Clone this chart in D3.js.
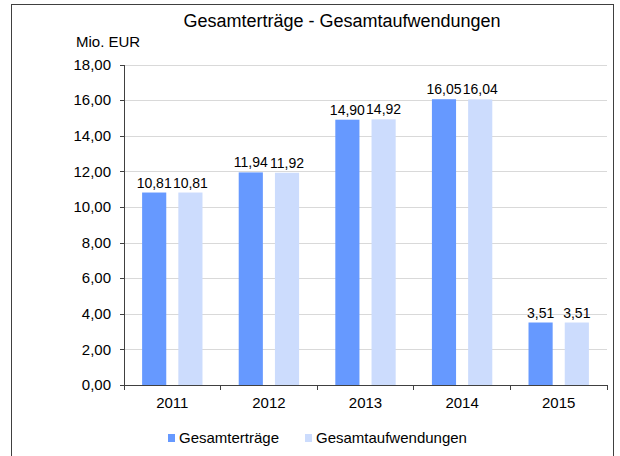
<!DOCTYPE html>
<html>
  <head>
    <meta charset="utf-8">
    <script type="text/javascript" src="https://cdn.jsdelivr.net/npm/d3@7"></script>
    <style type="text/css">
      body { margin: 0; background: #ffffff; }
      svg text { font-family: "Liberation Sans", Arial, sans-serif; fill: #000000; }
      .axis path, .axis line { fill: none; stroke: #404040; shape-rendering: crispEdges; }
      .grid line { stroke: #d9d9d9; shape-rendering: crispEdges; }
      .grid path { display: none; }
    </style>
  </head>
  <body>
    <script type="text/javascript">
      // data
      var years = ["2011", "2012", "2013", "2014", "2015"];
      var seriesNames = ["Gesamterträge", "Gesamtaufwendungen"];
      var ertraege = [10.81, 11.94, 14.90, 16.05, 3.51];
      var aufwendungen = [10.81, 11.92, 14.92, 16.04, 3.51];
      var yTicks = [0, 2, 4, 6, 8, 10, 12, 14, 16, 18];
      var colors = ["#6699ff", "#ccdcfd"];

      var svgWidth = 620;
      var svgHeight = 456;
      var plotLeft = 124, plotRight = 607, plotTop = 64.5, plotBottom = 385;

      var svg = d3.select("body")
        .append("svg")
        .attr("width", svgWidth)
        .attr("height", svgHeight);

      // frame round the chart
      svg.append("rect")
        .attr("x", 11.5)
        .attr("y", 4.5)
        .attr("width", 602)
        .attr("height", 470)
        .attr("fill", "none")
        .attr("stroke", "#404040")
        .attr("stroke-width", 1);

      var xScale = d3.scaleBand()
        .domain(years)
        .range([plotLeft, plotRight]);

      var inner = d3.scaleBand()
        .domain(seriesNames)
        .range([0, xScale.bandwidth()])
        .paddingInner(1 / 3)
        .paddingOuter(0.5);

      var yScale = d3.scaleLinear()
        .domain([0, 18])
        .range([plotBottom, plotTop]);

      var fmt = function(v) { return d3.format(".2f")(v).replace(".", ","); };

      // grid lines
      svg.append("g")
        .attr("class", "grid")
        .attr("transform", "translate(" + plotLeft + ",0)")
        .call(d3.axisLeft(yScale).tickValues(yTicks).tickSize(-(plotRight - plotLeft)).tickFormat(""));

      var rows = years.map(function(y, i) {
        return { year: y, values: [ertraege[i], aufwendungen[i]] };
      });

      var groups = svg.selectAll(".year")
        .data(rows)
        .enter()
        .append("g")
        .attr("transform", function(d) { return "translate(" + xScale(d.year) + ",0)"; });

      groups.selectAll("rect")
        .data(function(d) { return d.values.map(function(v, k) { return { name: seriesNames[k], value: v, k: k }; }); })
        .enter()
        .append("rect")
        .attr("x", function(d) { return inner(d.name); })
        .attr("y", function(d) { return yScale(d.value); })
        .attr("width", inner.bandwidth())
        .attr("height", function(d) { return plotBottom - yScale(d.value); })
        .attr("fill", function(d) { return colors[d.k]; });

      groups.selectAll(".val")
        .data(function(d) { return d.values.map(function(v, k) { return { name: seriesNames[k], value: v }; }); })
        .enter()
        .append("text")
        .attr("x", function(d) { return inner(d.name) + inner.bandwidth() / 2; })
        .attr("y", function(d) { return yScale(d.value) - 5; })
        .attr("text-anchor", "middle")
        .style("font-size", "14px")
        .text(function(d) { return fmt(d.value); });

      // y axis
      var yAxis = svg.append("g")
        .attr("class", "axis")
        .attr("transform", "translate(" + plotLeft + ",0)")
        .call(d3.axisLeft(yScale).tickValues(yTicks).tickSize(4).tickPadding(9).tickFormat(fmt).tickSizeOuter(0));
      yAxis.selectAll("text").style("font-size", "15px").attr("fill", "#000");

      // x axis
      var xAxis = svg.append("g")
        .attr("class", "axis")
        .attr("transform", "translate(0," + plotBottom + ")")
        .call(d3.axisBottom(xScale).tickSize(0).tickPadding(12));
      xAxis.selectAll("text").style("font-size", "15px").attr("fill", "#000");
      xAxis.select(".domain").attr("d", "M" + plotLeft + ",0H" + plotRight);

      // tick marks between categories
      var bounds = years.map(function(y) { return xScale(y); }).concat([plotRight]);
      xAxis.selectAll(".sep")
        .data(bounds)
        .enter()
        .append("line")
        .attr("x1", function(d) { return d; })
        .attr("x2", function(d) { return d; })
        .attr("y1", 0)
        .attr("y2", 5);

      // title and unit
      svg.append("text")
        .attr("x", 342)
        .attr("y", 27)
        .attr("text-anchor", "middle")
        .style("font-size", "18px")
        .text("Gesamterträge - Gesamtaufwendungen");

      svg.append("text")
        .attr("x", 76)
        .attr("y", 47)
        .style("font-size", "15px")
        .text("Mio. EUR");

      // legend
      var legendX = [168, 305];
      var legend = svg.selectAll(".legend")
        .data(seriesNames)
        .enter()
        .append("g")
        .attr("transform", function(d, i) { return "translate(" + legendX[i] + ",438)"; });

      legend.append("rect")
        .attr("x", 0)
        .attr("y", -4)
        .attr("width", 7)
        .attr("height", 8)
        .attr("fill", function(d, i) { return colors[i]; });

      legend.append("text")
        .attr("x", 11)
        .attr("y", 5)
        .style("font-size", "15px")
        .text(function(d) { return d; });
    </script>
  </body>
</html>
